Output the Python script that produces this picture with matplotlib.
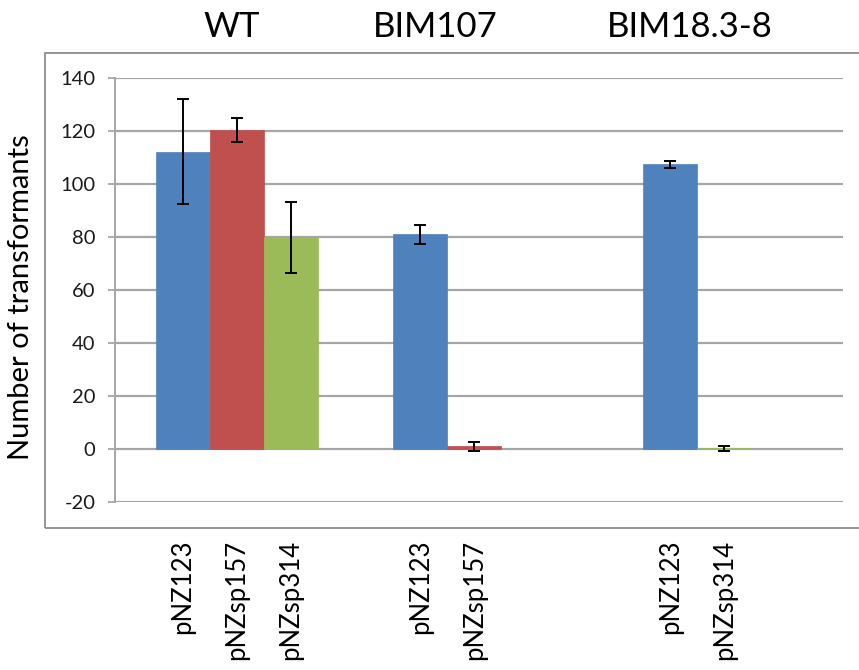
import matplotlib
matplotlib.use("Agg")
import matplotlib.pyplot as plt
from matplotlib.patches import Rectangle
import matplotlib.transforms as mtrans

plt.rcParams['font.family'] = ['Lato', 'DejaVu Sans']

# ---- data ----
groups = ["WT", "BIM107", "BIM18.3-8"]
bar_labels = ["pNZ123", "pNZsp157", "pNZsp314",
              "pNZ123", "pNZsp157",
              "pNZ123", "pNZsp314"]
bar_values = [112.2, 120.4, 79.9, 81.0, 1.0, 107.5, 0.3]
bar_errors = [19.7, 4.4, 13.4, 3.6, 1.6, 1.3, 0.9]
bar_colors = ["#4F81BD", "#C0504D", "#9BBB59",
              "#4F81BD", "#C0504D",
              "#4F81BD", "#9BBB59"]
y_ticks = [-20, 0, 20, 40, 60, 80, 100, 120, 140]
y_label = "Number of transformants"

# ---- layout (slot positions) ----
positions = [0, 1, 2, 4.4, 5.4, 9.03, 10.03]
title_x = [0.92, 4.68, 9.4]

W, H = 859, 670
fig = plt.figure(figsize=(W / 100, H / 100), dpi=100)

# outer chart frame
frame = Rectangle((45 / W, 1 - 528 / H), (W + 10 - 45) / W, (528 - 53) / H,
                  transform=fig.transFigure, fill=False, edgecolor="#8C8C8C",
                  lw=1.3, clip_on=False)
fig.patches.append(frame)

ax = fig.add_axes([115 / W, 1 - 502 / H, (843 - 115) / W, (502 - 78) / H])
ax.set_xlim(-1.25, 12.23)
ax.set_ylim(-20, 140)

ax.bar(positions, bar_values, width=1.0, color=bar_colors,
       edgecolor=bar_colors, linewidth=0.5, zorder=3)
ax.errorbar(positions, bar_values, yerr=bar_errors, fmt="none",
            ecolor="black", elinewidth=1.4, capsize=4.5, capthick=1.4,
            zorder=4)

ax.set_yticks(y_ticks)
ax.set_yticklabels([str(v) for v in y_ticks], fontsize=14.5, color="#1a1a1a")
ax.yaxis.grid(True, color="#A6A6A6", linewidth=1.6, zorder=0)
ax.set_axisbelow(True)
ax.tick_params(axis="y", length=5, width=1.3, color="#A6A6A6", pad=9)

ax.set_xticks(positions)
ax.set_xticklabels(bar_labels, rotation=90, fontsize=18.5, va="top")
ax.tick_params(axis="x", length=0, pad=27)

for s in ["top", "right", "bottom"]:
    ax.spines[s].set_visible(False)
ax.spines["left"].set_color("#A6A6A6")
ax.spines["left"].set_linewidth(1.4)

ax.set_ylabel(y_label, fontsize=21)
ax.yaxis.set_label_coords(34 / W, 1 - 297 / H, transform=fig.transFigure)

trans = mtrans.blended_transform_factory(ax.transData, fig.transFigure)
for gx, g in zip(title_x, groups):
    ax.text(gx, 1 - 37 / H, g, transform=trans, ha="center", va="baseline",
            fontsize=25, clip_on=False)

fig.savefig("out.png", dpi=100)
